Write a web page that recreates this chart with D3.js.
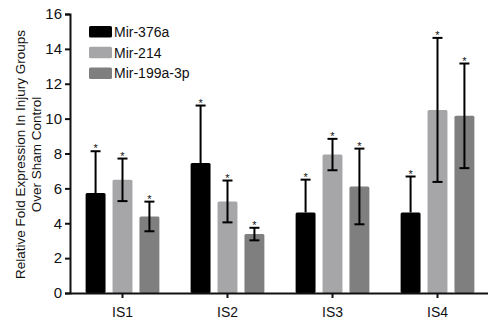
<!DOCTYPE html>
<html>
<head>
<meta charset="utf-8">
<script src="https://cdnjs.cloudflare.com/ajax/libs/d3/7.8.5/d3.min.js"></script>
<style>
  body { margin: 0; background: #fff; }
  svg text { font-family: "Liberation Sans", Arial, sans-serif; fill: #111; }
</style>
</head>
<body>
<figure id="chart" style="margin:0"></figure>
<script>
// data
const groups = ["IS1", "IS2", "IS3", "IS4"];
const seriesNames = ["Mir-376a", "Mir-214", "Mir-199a-3p"];
const seriesColors = ["#000000", "#a6a6a8", "#7f7f7f"];
const mir376a = [5.73, 7.45, 4.62, 4.62];
const mir376aErr = [2.4, 3.3, 1.88, 2.06];
const mir214 = [6.49, 5.25, 7.94, 10.5];
const mir214Err = [1.22, 1.2, 0.9, 4.13];
const mir199 = [4.39, 3.38, 6.11, 10.16];
const mir199Err = [0.85, 0.36, 2.17, 3.0];
const yTicks = [0, 2, 4, 6, 8, 10, 12, 14, 16];

const values = [mir376a, mir214, mir199];
const errors = [mir376aErr, mir214Err, mir199Err];

const width = 488, height = 322;
const x0 = 70, xEnd = 490, yTop = 14, yBottom = 293;

const svg = d3.select("figure#chart")
  .append("svg")
  .attr("width", width)
  .attr("height", height);

const x = d3.scaleBand().domain(groups).range([x0, xEnd]).paddingInner(0).paddingOuter(0);
const xInner = d3.scaleBand().domain(seriesNames).range([0, x.bandwidth()])
  .paddingInner(0.26).paddingOuter(0.58);
const y = d3.scaleLinear().domain([0, 16]).range([yBottom, yTop]);

// flatten into bar records
const bars = [];
groups.forEach((g, gi) => {
  seriesNames.forEach((s, si) => {
    bars.push({ group: g, series: s, color: seriesColors[si], value: values[si][gi], err: errors[si][gi] });
  });
});

// bars
svg.append("g")
  .selectAll("rect")
  .data(bars)
  .enter()
  .append("rect")
  .attr("x", d => x(d.group) + xInner(d.series))
  .attr("y", d => y(d.value))
  .attr("width", xInner.bandwidth())
  .attr("height", d => y(0) - y(d.value))
  .attr("rx", 1.5)
  .attr("fill", d => d.color);

// error bars (lower whisker is invisible on the black bars, so skip it there)
const eb = svg.append("g").attr("stroke", "#000").attr("stroke-width", 2);
bars.forEach(d => {
  const cx = x(d.group) + xInner(d.series) + xInner.bandwidth() / 2;
  const top = y(d.value + d.err);
  const hidden = d.color === "#000000";
  const bot = hidden ? y(d.value) : y(d.value - d.err);
  eb.append("line").attr("x1", cx).attr("x2", cx).attr("y1", top).attr("y2", bot);
  eb.append("line").attr("x1", cx - 5).attr("x2", cx + 5).attr("y1", top).attr("y2", top);
  if (!hidden) {
    eb.append("line").attr("x1", cx - 5).attr("x2", cx + 5).attr("y1", bot).attr("y2", bot);
  }
  svg.append("text")
    .attr("x", cx)
    .attr("y", top + 1)
    .attr("text-anchor", "middle")
    .style("font-size", "11px")
    .text("*");
});

// y axis
const yAxis = svg.append("g")
  .attr("transform", "translate(" + x0 + ",0)")
  .call(d3.axisLeft(y).tickValues(yTicks).tickSize(5).tickPadding(3));
yAxis.select(".domain").attr("stroke", "#111").attr("stroke-width", 2);
yAxis.selectAll(".tick line").attr("stroke", "#111").attr("stroke-width", 2);
yAxis.selectAll(".tick text").style("font-size", "15px").attr("fill", "#111");

// x axis
const xAxis = svg.append("g")
  .attr("transform", "translate(0," + yBottom + ")")
  .call(d3.axisBottom(x).tickSize(5).tickSizeOuter(0).tickPadding(9));
xAxis.select(".domain").attr("stroke", "#111").attr("stroke-width", 2);
xAxis.selectAll(".tick line").attr("stroke", "#111").attr("stroke-width", 2);
xAxis.selectAll(".tick text").style("font-size", "14px").attr("fill", "#111");

// y title
const title = svg.append("text")
  .attr("transform", "translate(25," + ((yTop + yBottom) / 2 + 1) + ") rotate(-90)")
  .attr("text-anchor", "middle")
  .style("font-size", "13.5px");
title.append("tspan").attr("x", 0).attr("dy", 0).text("Relative Fold Expression In Injury Groups");
title.append("tspan").attr("x", 0).attr("dy", 16).text("Over Sham Control");

// legend
const legend = svg.append("g").attr("transform", "translate(89,26)");
seriesNames.forEach((s, i) => {
  const row = legend.append("g").attr("transform", "translate(0," + (i * 20.7) + ")");
  row.append("rect").attr("width", 23).attr("height", 11.5).attr("rx", 1.5).attr("fill", seriesColors[i]);
  row.append("text").attr("x", 25).attr("y", 11).style("font-size", "14px").text(s);
});
</script>
</body>
</html>
